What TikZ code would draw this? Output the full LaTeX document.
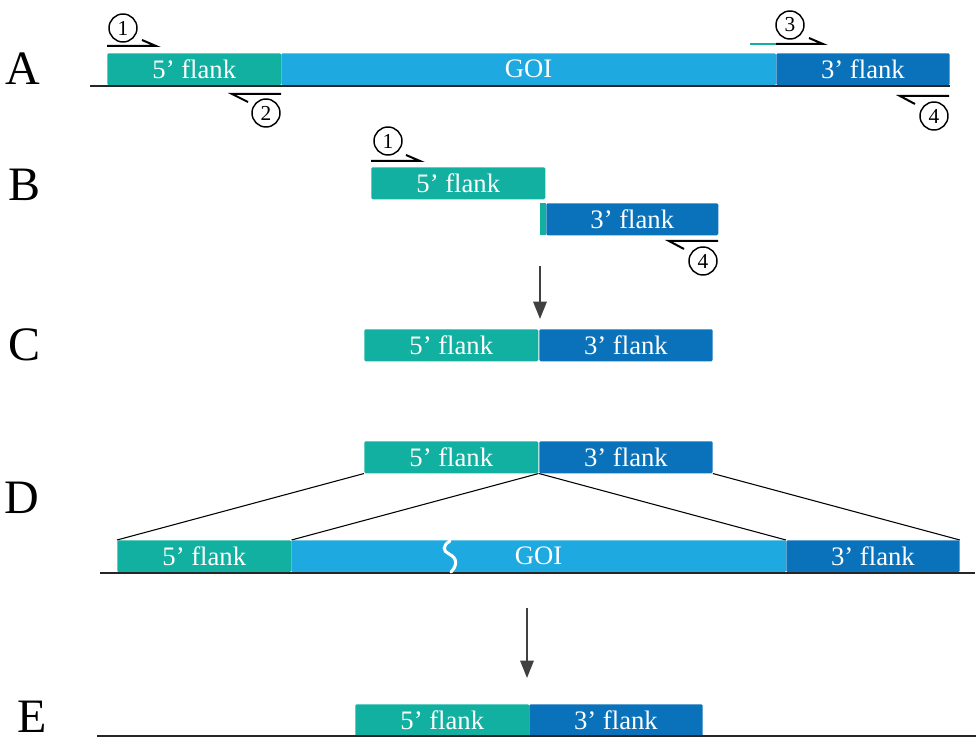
\documentclass[tikz,border=0pt]{standalone}
\usepackage{fontspec}
\setmainfont{Liberation Serif}
\usetikzlibrary{arrows.meta}
\definecolor{flankfive}{HTML}{12B0A0}
\definecolor{goiblue}{HTML}{1EAAE0}
\definecolor{flankthree}{HTML}{0A72BA}
\definecolor{arrowgray}{HTML}{404040}
\begin{document}
\begin{tikzpicture}[x=0.75pt,y=-0.75pt,
    box/.style={inner sep=0pt, minimum height=24pt, anchor=north west, text=white,
        font=\fontsize{20}{20}\selectfont, rounded corners=1pt},
    five/.style={box, fill=flankfive, minimum width=130.5pt},
    three/.style={box, fill=flankthree, minimum width=130pt},
    goi/.style={box, fill=goiblue, minimum width=371pt},
    rowlabel/.style={font=\fontsize{36}{36}\selectfont, inner sep=0pt, anchor=base},
    num/.style={draw, circle, line width=1.1pt, inner sep=0pt, minimum size=21pt,
        font=\fontsize{16}{16}\selectfont},
    primer/.style={line width=1.5pt},
    strand/.style={line width=1.1pt, black!85},
    stepdown/.style={arrowgray, line width=1.6pt, -{Triangle[length=13pt,width=10pt]}}]
    \useasboundingbox (0,0) rectangle (976,738);
    % A: genome with primers
    \node[rowlabel] (la) at (23,85) {A};
    \node[five] (fa5) at (107,53) {5’ flank};
    \node[goi] (fag) at (281,53) {GOI};
    \node[three] (fa3) at (776,53) {3’ flank};
    \draw[strand] (90,86) -- (950,86);
    \draw[primer] (107,46) -- (156,46) -- ++(-14,-6);
    \node[num] (na1) at (123,28) {1};
    \draw[primer] (281,94) -- (232,94) -- ++(16,8);
    \node[num] (na2) at (266,113) {2};
    \draw[primer, flankfive] (750,44) -- (776,44);
    \draw[primer] (776,44) -- (823,44) -- ++(-14,-6);
    \node[num] (na3) at (790,25) {3};
    \draw[primer] (949,96) -- (900,96) -- ++(15,8);
    \node[num] (na4) at (934,116) {4};
    % B: PCR products
    \node[rowlabel] (lb) at (25,201) {B};
    \node[five] (fb5) at (371,167) {5’ flank};
    \node[box, fill=flankthree, minimum width=129pt] (fb3) at (546,203) {3’ flank};
    \fill[flankfive] (540,203) rectangle (546,235);
    \draw[primer] (371,161) -- (420,161) -- ++(-14,-6);
    \node[num] (nb1) at (388,141) {1};
    \draw[primer] (718,241) -- (669,241) -- ++(15,8);
    \node[num] (nb4) at (703,261) {4};
    \coordinate (ab1) at (540,266);
    \coordinate (ab2) at (540,319);
    \draw[stepdown] (ab1) -- (ab2);
    % C: fused product
    \node[rowlabel] (lc) at (25,361) {C};
    \node[five] (fc5) at (364,329) {5’ flank};
    \node[three] (fc3) at (539,329) {3’ flank};
    % D: recombination
    \node[rowlabel] (ld) at (22,513) {D};
    \node[five] (fd5) at (364,441) {5’ flank};
    \node[three] (fd3) at (539,441) {3’ flank};
    \node[five] (fg5) at (117,540) {5’ flank};
    \node[goi] (fgg) at (291,540) {GOI};
    \node[three] (fg3) at (786,540) {3’ flank};
    \draw[strand] (100,573) -- (975,573);
    \draw[white, line width=2.3pt, line cap=round] (450,541) .. controls (442,546) and (443,551) .. (449,554)
        .. controls (458,558) and (457,566) .. (451,572);
    \draw[line width=0.8pt] (fd5.south west) -- (fg5.north west);
    \draw[line width=0.8pt] (fd5.south east) -- (fg5.north east);
    \draw[line width=0.8pt] (fd3.south west) -- (fg3.north west);
    \draw[line width=0.8pt] (fd3.south east) -- (fg3.north east);
    \coordinate (ad1) at (527,608);
    \coordinate (ad2) at (527,678);
    \draw[stepdown] (ad1) -- (ad2);
    % E: deletion strain
    \node[rowlabel] (le) at (32,732) {E};
    \node[five] (fe5) at (355,704) {5’ flank};
    \node[three] (fe3) at (529,704) {3’ flank};
    \draw[strand] (97,736) -- (976,736);
\end{tikzpicture}
\end{document}
